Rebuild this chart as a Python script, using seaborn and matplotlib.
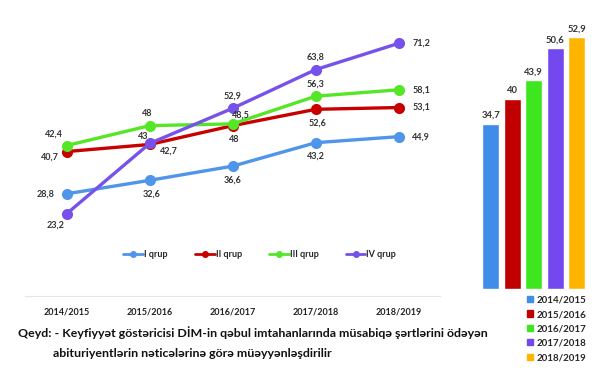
import numpy as np
import pandas as pd
import seaborn as sns
import matplotlib.pyplot as plt
from matplotlib.lines import Line2D
from matplotlib.patches import Patch

# ---- data ----
years = ["2014/2015", "2015/2016", "2016/2017", "2017/2018", "2018/2019"]
group_names = ["I qrup", "II qrup", "III qrup", "IV qrup"]
grup_1 = [28.8, 32.6, 36.6, 43.2, 44.9]
grup_2 = [40.7, 42.7, 48.0, 52.6, 53.1]
grup_3 = [42.4, 48.0, 48.5, 56.3, 58.1]
grup_4 = [23.2, 43.0, 52.9, 63.8, 71.2]
overall = [34.7, 40.0, 43.9, 50.6, 52.9]

line_colors = ["#4f95ea", "#c80000", "#55e627", "#7651ea"]
bar_colors = ["#3f8de8", "#c00000", "#3ee61f", "#7348ef", "#ffb400"]

sns.set_theme(style="white")
plt.rcParams["font.family"] = ["Lato", "DejaVu Sans"]

df = pd.DataFrame({
    "year": years * 4,
    "grup": np.repeat(group_names, 5),
    "value": grup_1 + grup_2 + grup_3 + grup_4,
})
df["x"] = np.tile(np.arange(5), 4)

fig = plt.figure(figsize=(6, 3.88), dpi=100)

# ---- line chart ----
ax = fig.add_axes([0.042, 0.237, 0.692, 0.732])
sns.lineplot(data=df, x="x", y="value", hue="grup", palette=line_colors,
             marker="o", markersize=8, markeredgewidth=0, linewidth=2.4,
             legend=False, ax=ax)
ax.set_xlim(-0.5, 4.5)
ax.set_ylim(0, 80)
ax.set_yticks([])
ax.set_xticks(range(5))
ax.set_xticklabels(years, fontsize=6.5, fontweight="bold", color="#222222")
ax.tick_params(axis="x", length=0, pad=8)
ax.set_xlabel("")
ax.set_ylabel("")
for s in ["top", "left", "right"]:
    ax.spines[s].set_visible(False)
ax.spines["bottom"].set_color("#e4e4e4")
ax.spines["bottom"].set_linewidth(0.8)

# label offsets (points) for each series
offsets = [
    [(-15, 0), (1, -10), (0, -10), (0, -10), (16, 0)],
    [(-12, -4), (14, -5), (1, -10), (1, -10), (16, 0)],
    [(-9, 8), (-2, 9), (6, 6), (0, 9), (16, 0)],
    [(-8, -8), (-5, 5), (0, 9), (0, 9), (16, 0)],
]
all_vals = [grup_1, grup_2, grup_3, grup_4]
for vals, offs in zip(all_vals, offsets):
    for i, v in enumerate(vals):
        txt = f"{v:g}".replace(".", ",")
        ax.annotate(txt, (i, v), xytext=offs[i], textcoords="offset points",
                    ha="center", va="center", fontsize=6.5, fontweight="bold",
                    color="#333333")

handles = [Line2D([0], [0], color=c, marker="o", markersize=4, linewidth=2)
           for c in line_colors]
ax.legend(handles, group_names, loc="center", bbox_to_anchor=(0.565, 0.145),
          ncol=4, frameon=False, handlelength=2.2,
          handletextpad=0.1, columnspacing=3.0,
          prop={"weight": "bold", "size": 6.5})

# ---- bar chart ----
bx = fig.add_axes([0.800, 0.255, 0.179, 0.736])
bar_df = pd.DataFrame({"year": years, "value": overall})
sns.barplot(data=bar_df, x="year", y="value", hue="year", palette=bar_colors,
            width=0.8, saturation=1, legend=False, ax=bx)
bx.set_ylim(0, 60)
bx.set_xlim(-0.5, 4.5)
bx.axis("off")
for i, v in enumerate(overall):
    bx.annotate(f"{v:g}".replace(".", ","), (i, v), xytext=(0, 6),
                textcoords="offset points", ha="center", va="center",
                fontsize=6.8, fontweight="bold", color="#333333")

bar_handles = [Patch(color=c) for c in bar_colors]
fig.legend(bar_handles, years, loc="upper left", bbox_to_anchor=(0.878, 0.238),
           frameon=False, handlelength=0.6, handleheight=0.6,
           handletextpad=0.4, labelspacing=0.55, borderaxespad=0,
           borderpad=0, prop={"weight": "bold", "size": 7})

# ---- note ----
fig.text(0.03, 0.142,
         "Qeyd: - Keyfiyyət göstəricisi DİM-in qəbul imtahanlarında müsabiqə şərtlərini ödəyən",
         fontsize=8.9, fontweight="bold", color="#111111", va="center")
fig.text(0.088, 0.09,
         "abituriyentlərin nəticələrinə görə müəyyənləşdirilir",
         fontsize=8.9, fontweight="bold", color="#111111", va="center")

fig.savefig("out.png", dpi=100)
